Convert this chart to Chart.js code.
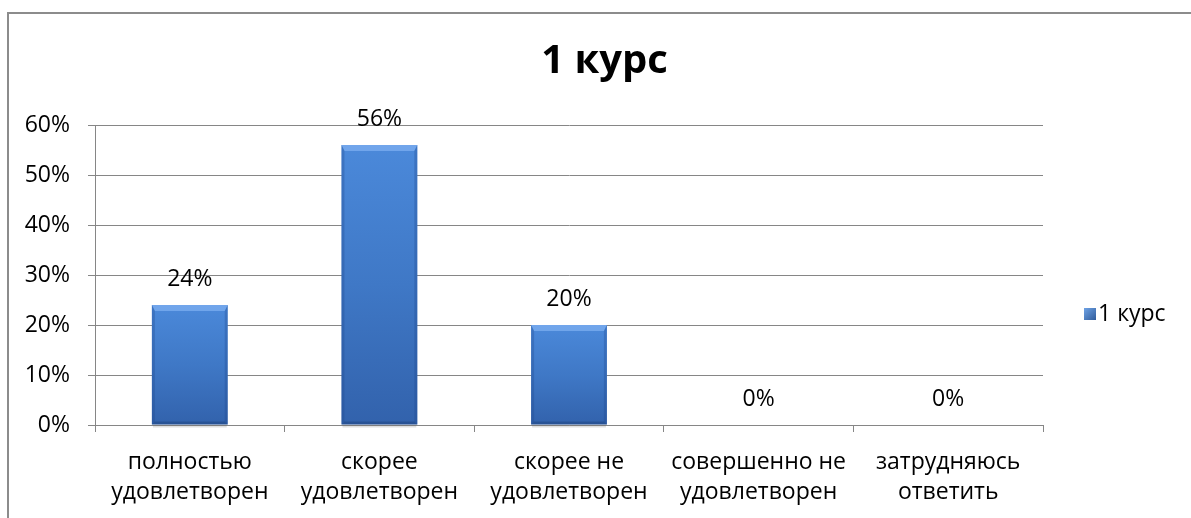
<!DOCTYPE html>
<html>
<head>
<meta charset="utf-8">
<script src="https://cdn.jsdelivr.net/npm/chart.js@4.4.0/dist/chart.umd.min.js"></script>
<style>
  html, body { margin: 0; padding: 0; background: #fff; }
  #wrap { width: 1191px; height: 518px; position: relative; }
</style>
</head>
<body>
<div id="wrap"><canvas id="kursChart" width="1191" height="518"></canvas></div>
<script>
// data
var categories = [
    ['полностью', 'удовлетворен'],
    ['скорее', 'удовлетворен'],
    ['скорее не', 'удовлетворен'],
    ['совершенно не', 'удовлетворен'],
    ['затрудняюсь', 'ответить']
];
var seriesName = '1 курс';
var percentValues = [24, 56, 20, 0, 0];
var yTicks = [0, 10, 20, 30, 40, 50, 60];

var FONT = '"Open Sans", "Noto Sans", sans-serif';
var GRID = '#868686';

function barFill(c) {
    var chart = c.chart;
    if (!chart.chartArea) return '#3f78c4';
    var ys = chart.scales.y;
    var top = ys.getPixelForValue(percentValues[c.dataIndex]);
    var base = ys.getPixelForValue(0);
    if (base - top < 1) return '#3f78c4';
    var g = chart.ctx.createLinearGradient(0, top, 0, base);
    g.addColorStop(0, '#4b89da');
    g.addColorStop(0.5, '#3f78c6');
    g.addColorStop(1, '#3262ac');
    return g;
}

// frame lines at left and top of the picture
var framePlugin = {
    id: 'frame',
    beforeDraw: function(chart) {
        var ctx = chart.ctx;
        ctx.save();
        ctx.strokeStyle = '#8c8c8c';
        ctx.lineWidth = 2;
        ctx.beginPath();
        ctx.moveTo(8, 518);
        ctx.lineTo(8, 13);
        ctx.lineTo(1191, 13);
        ctx.stroke();
        ctx.restore();
    }
};

// bevel look of the bars + value labels
var barExtras = {
    id: 'barExtras',
    afterDatasetsDraw: function(chart) {
        var ctx = chart.ctx;
        var meta = chart.getDatasetMeta(0);
        ctx.save();
        meta.data.forEach(function(bar, i) {
            var x0 = bar.x - bar.width / 2, x1 = bar.x + bar.width / 2;
            var top = bar.y, bottom = bar.base;
            var h = bottom - top;
            if (h > 8) {
                var b = 6, s = 3;
                // top bevel
                ctx.fillStyle = 'rgba(125,175,240,0.75)';
                ctx.beginPath();
                ctx.moveTo(x0, top); ctx.lineTo(x1, top);
                ctx.lineTo(x1 - s, top + b); ctx.lineTo(x0 + s, top + b);
                ctx.closePath(); ctx.fill();
                // sides
                ctx.fillStyle = 'rgba(30,70,140,0.30)';
                ctx.beginPath();
                ctx.moveTo(x0, top); ctx.lineTo(x0 + s, top + b);
                ctx.lineTo(x0 + s, bottom - s); ctx.lineTo(x0, bottom);
                ctx.closePath(); ctx.fill();
                ctx.beginPath();
                ctx.moveTo(x1, top); ctx.lineTo(x1 - s, top + b);
                ctx.lineTo(x1 - s, bottom - s); ctx.lineTo(x1, bottom);
                ctx.closePath(); ctx.fill();
                // bottom
                ctx.fillStyle = 'rgba(20,45,95,0.30)';
                ctx.beginPath();
                ctx.moveTo(x0, bottom); ctx.lineTo(x0 + s, bottom - s);
                ctx.lineTo(x1 - s, bottom - s); ctx.lineTo(x1, bottom);
                ctx.closePath(); ctx.fill();
                // soft shadow under the bar
                ctx.fillStyle = 'rgba(0,0,0,0.12)';
                ctx.fillRect(x0 + 1, bottom + 1, bar.width - 2, 2);
            }
            ctx.fillStyle = '#000';
            ctx.font = '23px ' + FONT;
            ctx.textAlign = 'center';
            ctx.textBaseline = 'middle';
            ctx.fillText(percentValues[i] + '%', bar.x, top - 26);
        });
        ctx.restore();
    }
};

// legend sits to the right, lower than the middle
var sideLegend = {
    id: 'sideLegend',
    afterDraw: function(chart) {
        var ctx = chart.ctx;
        ctx.save();
        var g = ctx.createLinearGradient(1084, 308, 1096, 320);
        g.addColorStop(0, '#6fa3e6');
        g.addColorStop(1, '#2f5b9a');
        ctx.fillStyle = g;
        ctx.fillRect(1084, 308, 12, 12);
        ctx.fillStyle = '#000';
        ctx.font = '23px ' + FONT;
        ctx.textAlign = 'left';
        ctx.textBaseline = 'middle';
        ctx.fillText(chart.data.datasets[0].label, 1098, 314);
        ctx.restore();
    }
};

var ctx = document.getElementById('kursChart').getContext('2d');
var kursChart = new Chart(ctx, {
    type: 'bar',
    data: {
        labels: categories,
        datasets: [{
            label: seriesName,
            data: percentValues,
            backgroundColor: barFill,
            borderWidth: 0,
            barPercentage: 0.4,
            categoryPercentage: 1
        }]
    },
    options: {
        responsive: false,
        animation: false,
        events: [],
        layout: { padding: { top: 13, left: 18, right: 0, bottom: 0 } },
        plugins: {
            legend: { display: false },
            tooltip: { enabled: false },
            title: {
                display: true,
                text: seriesName,
                color: '#000',
                font: { family: FONT, size: 40, weight: 'bold', lineHeight: 1.2 },
                padding: { top: 25, bottom: 39 }
            }
        },
        scales: {
            x: {
                grid: {
                    display: true,
                    drawOnChartArea: false,
                    drawTicks: true,
                    tickLength: 7,
                    color: GRID,
                    offset: true
                },
                border: { display: true, color: GRID, width: 1 },
                ticks: {
                    color: '#000',
                    padding: 16,
                    maxRotation: 0,
                    autoSkip: false,
                    font: { family: FONT, size: 23, lineHeight: 1.3 }
                },
                afterFit: function(scale) { scale.height = 93; }
            },
            y: {
                min: 0,
                max: 60,
                afterBuildTicks: function(scale) {
                    scale.ticks = yTicks.map(function(v) { return { value: v }; });
                },
                grid: { color: GRID, tickLength: 7, lineWidth: 1 },
                border: { display: true, color: GRID, width: 1 },
                ticks: {
                    color: '#000',
                    padding: 18,
                    font: { family: FONT, size: 23 },
                    callback: function(v) { return v + '%'; }
                },
                afterFit: function(scale) { scale.width = 77; }
            },
            // empty right-hand axis keeps room for the legend
            yRight: {
                position: 'right',
                display: true,
                min: 0,
                max: 60,
                grid: { display: false },
                border: { display: false },
                ticks: { display: false },
                afterFit: function(scale) { scale.width = 148; }
            }
        }
    },
    plugins: [framePlugin, barExtras, sideLegend]
});
</script>
</body>
</html>
